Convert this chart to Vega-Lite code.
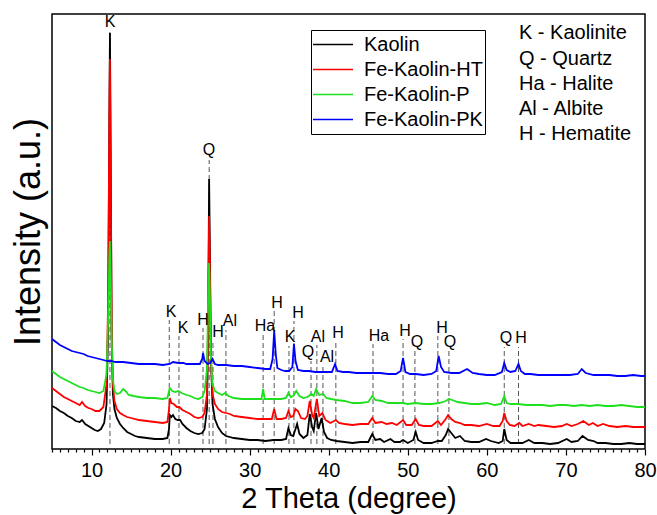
{
  "$schema": "https://vega.github.io/schema/vega-lite/v6.json",
  "autosize": {"type": "none"},
  "padding": {"left": 52, "top": 14, "right": 12, "bottom": 66},
  "width": 593,
  "height": 435,
  "background": "white",
  "config": {
    "font": "Liberation Sans",
    "view": {"stroke": "black", "strokeWidth": 1.5}
  },
  "datasets": {
    "traces": [
      {"s":"Kaolin","x":5,"y":43},{"s":"Kaolin","x":5.5,"y":41},{"s":"Kaolin","x":6,"y":38},{"s":"Kaolin","x":6.5,"y":36},{"s":"Kaolin","x":7,"y":33},{"s":"Kaolin","x":7.5,"y":31},{"s":"Kaolin","x":8,"y":28},{"s":"Kaolin","x":8.5,"y":27},{"s":"Kaolin","x":8.8,"y":29},{"s":"Kaolin","x":9.2,"y":25},{"s":"Kaolin","x":9.6,"y":23},{"s":"Kaolin","x":10,"y":21},{"s":"Kaolin","x":10.4,"y":19},{"s":"Kaolin","x":10.8,"y":18},{"s":"Kaolin","x":11.2,"y":20},{"s":"Kaolin","x":11.6,"y":26},{"s":"Kaolin","x":11.9,"y":45},{"s":"Kaolin","x":12.1,"y":120},{"s":"Kaolin","x":12.25,"y":330},{"s":"Kaolin","x":12.33,"y":416},{"s":"Kaolin","x":12.42,"y":300},{"s":"Kaolin","x":12.55,"y":110},{"s":"Kaolin","x":12.7,"y":55},{"s":"Kaolin","x":12.9,"y":40},{"s":"Kaolin","x":13.2,"y":31},{"s":"Kaolin","x":13.6,"y":25},{"s":"Kaolin","x":14,"y":21},{"s":"Kaolin","x":14.5,"y":17},{"s":"Kaolin","x":15,"y":15},{"s":"Kaolin","x":15.5,"y":13},{"s":"Kaolin","x":16,"y":12},{"s":"Kaolin","x":17,"y":11},{"s":"Kaolin","x":18,"y":10},{"s":"Kaolin","x":19,"y":10},{"s":"Kaolin","x":19.6,"y":11},{"s":"Kaolin","x":19.8,"y":20},{"s":"Kaolin","x":19.9,"y":34},{"s":"Kaolin","x":20.1,"y":32},{"s":"Kaolin","x":20.3,"y":34},{"s":"Kaolin","x":20.6,"y":30},{"s":"Kaolin","x":20.9,"y":29},{"s":"Kaolin","x":21.2,"y":29},{"s":"Kaolin","x":21.5,"y":25},{"s":"Kaolin","x":22,"y":21},{"s":"Kaolin","x":22.5,"y":18},{"s":"Kaolin","x":23,"y":16},{"s":"Kaolin","x":23.5,"y":15},{"s":"Kaolin","x":24,"y":16},{"s":"Kaolin","x":24.3,"y":20},{"s":"Kaolin","x":24.6,"y":40},{"s":"Kaolin","x":24.75,"y":120},{"s":"Kaolin","x":24.87,"y":270},{"s":"Kaolin","x":24.97,"y":200},{"s":"Kaolin","x":25.1,"y":90},{"s":"Kaolin","x":25.3,"y":45},{"s":"Kaolin","x":25.6,"y":30},{"s":"Kaolin","x":26,"y":22},{"s":"Kaolin","x":26.5,"y":16},{"s":"Kaolin","x":27,"y":13},{"s":"Kaolin","x":28,"y":11},{"s":"Kaolin","x":29,"y":10},{"s":"Kaolin","x":30,"y":9},{"s":"Kaolin","x":31,"y":9},{"s":"Kaolin","x":32,"y":8},{"s":"Kaolin","x":33,"y":9},{"s":"Kaolin","x":34,"y":9},{"s":"Kaolin","x":34.6,"y":10},{"s":"Kaolin","x":34.9,"y":21},{"s":"Kaolin","x":35.2,"y":14},{"s":"Kaolin","x":35.5,"y":13},{"s":"Kaolin","x":35.8,"y":20},{"s":"Kaolin","x":36,"y":25},{"s":"Kaolin","x":36.3,"y":15},{"s":"Kaolin","x":36.8,"y":11},{"s":"Kaolin","x":37.3,"y":14},{"s":"Kaolin","x":37.6,"y":35},{"s":"Kaolin","x":37.9,"y":22},{"s":"Kaolin","x":38.1,"y":18},{"s":"Kaolin","x":38.4,"y":36},{"s":"Kaolin","x":38.7,"y":20},{"s":"Kaolin","x":39.1,"y":31},{"s":"Kaolin","x":39.4,"y":17},{"s":"Kaolin","x":39.8,"y":11},{"s":"Kaolin","x":40.3,"y":9},{"s":"Kaolin","x":41,"y":8},{"s":"Kaolin","x":42,"y":7},{"s":"Kaolin","x":43,"y":6},{"s":"Kaolin","x":44,"y":7},{"s":"Kaolin","x":45,"y":7},{"s":"Kaolin","x":45.5,"y":15},{"s":"Kaolin","x":45.9,"y":9},{"s":"Kaolin","x":46.5,"y":10},{"s":"Kaolin","x":47,"y":7},{"s":"Kaolin","x":47.8,"y":10},{"s":"Kaolin","x":48.3,"y":7},{"s":"Kaolin","x":49,"y":7},{"s":"Kaolin","x":49.4,"y":9},{"s":"Kaolin","x":50,"y":6},{"s":"Kaolin","x":50.7,"y":9},{"s":"Kaolin","x":51,"y":17},{"s":"Kaolin","x":51.3,"y":9},{"s":"Kaolin","x":52,"y":6},{"s":"Kaolin","x":53,"y":6},{"s":"Kaolin","x":53.8,"y":8},{"s":"Kaolin","x":54.3,"y":8},{"s":"Kaolin","x":54.8,"y":14},{"s":"Kaolin","x":55.1,"y":20},{"s":"Kaolin","x":55.5,"y":16},{"s":"Kaolin","x":56,"y":11},{"s":"Kaolin","x":56.6,"y":13},{"s":"Kaolin","x":57.2,"y":8},{"s":"Kaolin","x":58,"y":7},{"s":"Kaolin","x":59,"y":7},{"s":"Kaolin","x":59.9,"y":10},{"s":"Kaolin","x":60.5,"y":8},{"s":"Kaolin","x":61.5,"y":6},{"s":"Kaolin","x":62,"y":8},{"s":"Kaolin","x":62.2,"y":20},{"s":"Kaolin","x":62.5,"y":9},{"s":"Kaolin","x":63,"y":6},{"s":"Kaolin","x":64,"y":6},{"s":"Kaolin","x":64.5,"y":6},{"s":"Kaolin","x":65.3,"y":9},{"s":"Kaolin","x":66,"y":6},{"s":"Kaolin","x":67,"y":6},{"s":"Kaolin","x":68,"y":5},{"s":"Kaolin","x":69,"y":6},{"s":"Kaolin","x":70.1,"y":10},{"s":"Kaolin","x":70.7,"y":7},{"s":"Kaolin","x":71.5,"y":8},{"s":"Kaolin","x":72.1,"y":13},{"s":"Kaolin","x":72.8,"y":9},{"s":"Kaolin","x":73.5,"y":8},{"s":"Kaolin","x":74,"y":6},{"s":"Kaolin","x":75,"y":6},{"s":"Kaolin","x":76,"y":5},{"s":"Kaolin","x":77,"y":5},{"s":"Kaolin","x":78,"y":6},{"s":"Kaolin","x":79,"y":5},{"s":"Kaolin","x":80,"y":5},

      {"s":"Fe-Kaolin-HT","x":5,"y":61},{"s":"Fe-Kaolin-HT","x":5.5,"y":58},{"s":"Fe-Kaolin-HT","x":6,"y":55},{"s":"Fe-Kaolin-HT","x":6.5,"y":52},{"s":"Fe-Kaolin-HT","x":7,"y":50},{"s":"Fe-Kaolin-HT","x":7.5,"y":48},{"s":"Fe-Kaolin-HT","x":8,"y":46},{"s":"Fe-Kaolin-HT","x":8.5,"y":44},{"s":"Fe-Kaolin-HT","x":8.8,"y":47},{"s":"Fe-Kaolin-HT","x":9.2,"y":43},{"s":"Fe-Kaolin-HT","x":9.6,"y":41},{"s":"Fe-Kaolin-HT","x":10,"y":40},{"s":"Fe-Kaolin-HT","x":10.5,"y":38},{"s":"Fe-Kaolin-HT","x":11,"y":38},{"s":"Fe-Kaolin-HT","x":11.5,"y":42},{"s":"Fe-Kaolin-HT","x":11.9,"y":65},{"s":"Fe-Kaolin-HT","x":12.1,"y":150},{"s":"Fe-Kaolin-HT","x":12.25,"y":330},{"s":"Fe-Kaolin-HT","x":12.32,"y":390},{"s":"Fe-Kaolin-HT","x":12.42,"y":280},{"s":"Fe-Kaolin-HT","x":12.55,"y":120},{"s":"Fe-Kaolin-HT","x":12.7,"y":65},{"s":"Fe-Kaolin-HT","x":12.9,"y":48},{"s":"Fe-Kaolin-HT","x":13.2,"y":40},{"s":"Fe-Kaolin-HT","x":13.6,"y":36},{"s":"Fe-Kaolin-HT","x":14,"y":34},{"s":"Fe-Kaolin-HT","x":14.5,"y":32},{"s":"Fe-Kaolin-HT","x":15,"y":31},{"s":"Fe-Kaolin-HT","x":16,"y":29},{"s":"Fe-Kaolin-HT","x":17,"y":28},{"s":"Fe-Kaolin-HT","x":18,"y":27},{"s":"Fe-Kaolin-HT","x":19,"y":26},{"s":"Fe-Kaolin-HT","x":19.6,"y":27},{"s":"Fe-Kaolin-HT","x":19.8,"y":40},{"s":"Fe-Kaolin-HT","x":19.9,"y":51},{"s":"Fe-Kaolin-HT","x":20.1,"y":46},{"s":"Fe-Kaolin-HT","x":20.4,"y":45},{"s":"Fe-Kaolin-HT","x":20.8,"y":42},{"s":"Fe-Kaolin-HT","x":21.1,"y":42},{"s":"Fe-Kaolin-HT","x":21.5,"y":39},{"s":"Fe-Kaolin-HT","x":22,"y":37},{"s":"Fe-Kaolin-HT","x":22.5,"y":35},{"s":"Fe-Kaolin-HT","x":23,"y":32},{"s":"Fe-Kaolin-HT","x":23.5,"y":31},{"s":"Fe-Kaolin-HT","x":24,"y":32},{"s":"Fe-Kaolin-HT","x":24.3,"y":36},{"s":"Fe-Kaolin-HT","x":24.6,"y":55},{"s":"Fe-Kaolin-HT","x":24.75,"y":130},{"s":"Fe-Kaolin-HT","x":24.87,"y":233},{"s":"Fe-Kaolin-HT","x":24.97,"y":180},{"s":"Fe-Kaolin-HT","x":25.1,"y":90},{"s":"Fe-Kaolin-HT","x":25.3,"y":55},{"s":"Fe-Kaolin-HT","x":25.6,"y":45},{"s":"Fe-Kaolin-HT","x":26,"y":40},{"s":"Fe-Kaolin-HT","x":26.5,"y":37},{"s":"Fe-Kaolin-HT","x":27,"y":36},{"s":"Fe-Kaolin-HT","x":27.5,"y":35},{"s":"Fe-Kaolin-HT","x":28,"y":33},{"s":"Fe-Kaolin-HT","x":29,"y":32},{"s":"Fe-Kaolin-HT","x":30,"y":31},{"s":"Fe-Kaolin-HT","x":31,"y":30},{"s":"Fe-Kaolin-HT","x":32,"y":30},{"s":"Fe-Kaolin-HT","x":32.8,"y":30},{"s":"Fe-Kaolin-HT","x":33.1,"y":40},{"s":"Fe-Kaolin-HT","x":33.4,"y":30},{"s":"Fe-Kaolin-HT","x":34,"y":30},{"s":"Fe-Kaolin-HT","x":34.6,"y":31},{"s":"Fe-Kaolin-HT","x":34.9,"y":38},{"s":"Fe-Kaolin-HT","x":35.2,"y":32},{"s":"Fe-Kaolin-HT","x":35.5,"y":33},{"s":"Fe-Kaolin-HT","x":35.8,"y":40},{"s":"Fe-Kaolin-HT","x":36.1,"y":38},{"s":"Fe-Kaolin-HT","x":36.5,"y":31},{"s":"Fe-Kaolin-HT","x":37,"y":30},{"s":"Fe-Kaolin-HT","x":37.3,"y":33},{"s":"Fe-Kaolin-HT","x":37.6,"y":48},{"s":"Fe-Kaolin-HT","x":37.9,"y":34},{"s":"Fe-Kaolin-HT","x":38.1,"y":31},{"s":"Fe-Kaolin-HT","x":38.5,"y":50},{"s":"Fe-Kaolin-HT","x":38.8,"y":33},{"s":"Fe-Kaolin-HT","x":39.2,"y":36},{"s":"Fe-Kaolin-HT","x":39.6,"y":29},{"s":"Fe-Kaolin-HT","x":40.2,"y":26},{"s":"Fe-Kaolin-HT","x":40.9,"y":29},{"s":"Fe-Kaolin-HT","x":41.3,"y":26},{"s":"Fe-Kaolin-HT","x":42,"y":25},{"s":"Fe-Kaolin-HT","x":43,"y":24},{"s":"Fe-Kaolin-HT","x":44,"y":25},{"s":"Fe-Kaolin-HT","x":45,"y":25},{"s":"Fe-Kaolin-HT","x":45.5,"y":31},{"s":"Fe-Kaolin-HT","x":45.9,"y":26},{"s":"Fe-Kaolin-HT","x":46.7,"y":27},{"s":"Fe-Kaolin-HT","x":47.3,"y":25},{"s":"Fe-Kaolin-HT","x":48,"y":26},{"s":"Fe-Kaolin-HT","x":48.6,"y":24},{"s":"Fe-Kaolin-HT","x":49.4,"y":29},{"s":"Fe-Kaolin-HT","x":49.8,"y":24},{"s":"Fe-Kaolin-HT","x":50.5,"y":24},{"s":"Fe-Kaolin-HT","x":51,"y":30},{"s":"Fe-Kaolin-HT","x":51.4,"y":24},{"s":"Fe-Kaolin-HT","x":52,"y":23},{"s":"Fe-Kaolin-HT","x":53,"y":23},{"s":"Fe-Kaolin-HT","x":53.8,"y":28},{"s":"Fe-Kaolin-HT","x":54.2,"y":24},{"s":"Fe-Kaolin-HT","x":54.8,"y":30},{"s":"Fe-Kaolin-HT","x":55.1,"y":34},{"s":"Fe-Kaolin-HT","x":55.5,"y":30},{"s":"Fe-Kaolin-HT","x":56,"y":27},{"s":"Fe-Kaolin-HT","x":56.6,"y":26},{"s":"Fe-Kaolin-HT","x":57.2,"y":24},{"s":"Fe-Kaolin-HT","x":58,"y":24},{"s":"Fe-Kaolin-HT","x":59,"y":23},{"s":"Fe-Kaolin-HT","x":60,"y":25},{"s":"Fe-Kaolin-HT","x":60.8,"y":23},{"s":"Fe-Kaolin-HT","x":61.6,"y":23},{"s":"Fe-Kaolin-HT","x":62,"y":28},{"s":"Fe-Kaolin-HT","x":62.2,"y":36},{"s":"Fe-Kaolin-HT","x":62.5,"y":28},{"s":"Fe-Kaolin-HT","x":62.9,"y":24},{"s":"Fe-Kaolin-HT","x":63.5,"y":23},{"s":"Fe-Kaolin-HT","x":64.1,"y":26},{"s":"Fe-Kaolin-HT","x":64.5,"y":23},{"s":"Fe-Kaolin-HT","x":65.3,"y":25},{"s":"Fe-Kaolin-HT","x":66,"y":23},{"s":"Fe-Kaolin-HT","x":66.5,"y":24},{"s":"Fe-Kaolin-HT","x":67.5,"y":23},{"s":"Fe-Kaolin-HT","x":68.5,"y":22},{"s":"Fe-Kaolin-HT","x":69.5,"y":23},{"s":"Fe-Kaolin-HT","x":70.1,"y":25},{"s":"Fe-Kaolin-HT","x":70.7,"y":23},{"s":"Fe-Kaolin-HT","x":71.5,"y":25},{"s":"Fe-Kaolin-HT","x":72.2,"y":28},{"s":"Fe-Kaolin-HT","x":72.9,"y":24},{"s":"Fe-Kaolin-HT","x":73.4,"y":26},{"s":"Fe-Kaolin-HT","x":74,"y":23},{"s":"Fe-Kaolin-HT","x":74.7,"y":25},{"s":"Fe-Kaolin-HT","x":75.5,"y":23},{"s":"Fe-Kaolin-HT","x":76.5,"y":22},{"s":"Fe-Kaolin-HT","x":77.5,"y":23},{"s":"Fe-Kaolin-HT","x":78.5,"y":22},{"s":"Fe-Kaolin-HT","x":79.5,"y":22},{"s":"Fe-Kaolin-HT","x":80,"y":22},

      {"s":"Fe-Kaolin-P","x":5,"y":78},{"s":"Fe-Kaolin-P","x":5.5,"y":75},{"s":"Fe-Kaolin-P","x":6,"y":72},{"s":"Fe-Kaolin-P","x":6.5,"y":70},{"s":"Fe-Kaolin-P","x":7,"y":68},{"s":"Fe-Kaolin-P","x":7.5,"y":66},{"s":"Fe-Kaolin-P","x":8,"y":64},{"s":"Fe-Kaolin-P","x":8.5,"y":62},{"s":"Fe-Kaolin-P","x":9,"y":61},{"s":"Fe-Kaolin-P","x":9.5,"y":59},{"s":"Fe-Kaolin-P","x":10,"y":58},{"s":"Fe-Kaolin-P","x":10.5,"y":57},{"s":"Fe-Kaolin-P","x":11,"y":56},{"s":"Fe-Kaolin-P","x":11.5,"y":58},{"s":"Fe-Kaolin-P","x":11.9,"y":75},{"s":"Fe-Kaolin-P","x":12.1,"y":130},{"s":"Fe-Kaolin-P","x":12.25,"y":190},{"s":"Fe-Kaolin-P","x":12.32,"y":208},{"s":"Fe-Kaolin-P","x":12.42,"y":170},{"s":"Fe-Kaolin-P","x":12.55,"y":110},{"s":"Fe-Kaolin-P","x":12.7,"y":70},{"s":"Fe-Kaolin-P","x":12.9,"y":58},{"s":"Fe-Kaolin-P","x":13.2,"y":55},{"s":"Fe-Kaolin-P","x":13.6,"y":56},{"s":"Fe-Kaolin-P","x":14,"y":60},{"s":"Fe-Kaolin-P","x":14.3,"y":58},{"s":"Fe-Kaolin-P","x":14.7,"y":54},{"s":"Fe-Kaolin-P","x":15.3,"y":53},{"s":"Fe-Kaolin-P","x":16,"y":52},{"s":"Fe-Kaolin-P","x":17,"y":51},{"s":"Fe-Kaolin-P","x":18,"y":51},{"s":"Fe-Kaolin-P","x":19,"y":50},{"s":"Fe-Kaolin-P","x":19.6,"y":51},{"s":"Fe-Kaolin-P","x":19.8,"y":58},{"s":"Fe-Kaolin-P","x":19.9,"y":61},{"s":"Fe-Kaolin-P","x":20.2,"y":58},{"s":"Fe-Kaolin-P","x":20.6,"y":57},{"s":"Fe-Kaolin-P","x":21,"y":58},{"s":"Fe-Kaolin-P","x":21.4,"y":56},{"s":"Fe-Kaolin-P","x":22,"y":54},{"s":"Fe-Kaolin-P","x":22.5,"y":53},{"s":"Fe-Kaolin-P","x":23,"y":51},{"s":"Fe-Kaolin-P","x":23.5,"y":50},{"s":"Fe-Kaolin-P","x":24,"y":52},{"s":"Fe-Kaolin-P","x":24.3,"y":58},{"s":"Fe-Kaolin-P","x":24.6,"y":80},{"s":"Fe-Kaolin-P","x":24.75,"y":150},{"s":"Fe-Kaolin-P","x":24.87,"y":186},{"s":"Fe-Kaolin-P","x":24.97,"y":150},{"s":"Fe-Kaolin-P","x":25.1,"y":90},{"s":"Fe-Kaolin-P","x":25.3,"y":65},{"s":"Fe-Kaolin-P","x":25.6,"y":58},{"s":"Fe-Kaolin-P","x":26,"y":56},{"s":"Fe-Kaolin-P","x":26.5,"y":54},{"s":"Fe-Kaolin-P","x":26.9,"y":56},{"s":"Fe-Kaolin-P","x":27.3,"y":53},{"s":"Fe-Kaolin-P","x":28,"y":51},{"s":"Fe-Kaolin-P","x":29,"y":50},{"s":"Fe-Kaolin-P","x":30,"y":50},{"s":"Fe-Kaolin-P","x":31,"y":50},{"s":"Fe-Kaolin-P","x":31.5,"y":50},{"s":"Fe-Kaolin-P","x":31.7,"y":60},{"s":"Fe-Kaolin-P","x":31.9,"y":50},{"s":"Fe-Kaolin-P","x":32.5,"y":50},{"s":"Fe-Kaolin-P","x":33,"y":50},{"s":"Fe-Kaolin-P","x":33.5,"y":50},{"s":"Fe-Kaolin-P","x":34,"y":50},{"s":"Fe-Kaolin-P","x":34.6,"y":51},{"s":"Fe-Kaolin-P","x":34.9,"y":56},{"s":"Fe-Kaolin-P","x":35.2,"y":52},{"s":"Fe-Kaolin-P","x":35.5,"y":53},{"s":"Fe-Kaolin-P","x":35.9,"y":58},{"s":"Fe-Kaolin-P","x":36.3,"y":53},{"s":"Fe-Kaolin-P","x":36.8,"y":51},{"s":"Fe-Kaolin-P","x":37.3,"y":52},{"s":"Fe-Kaolin-P","x":37.8,"y":55},{"s":"Fe-Kaolin-P","x":38.1,"y":53},{"s":"Fe-Kaolin-P","x":38.4,"y":60},{"s":"Fe-Kaolin-P","x":38.8,"y":54},{"s":"Fe-Kaolin-P","x":39.3,"y":55},{"s":"Fe-Kaolin-P","x":39.7,"y":51},{"s":"Fe-Kaolin-P","x":40.3,"y":50},{"s":"Fe-Kaolin-P","x":41,"y":49},{"s":"Fe-Kaolin-P","x":42,"y":48},{"s":"Fe-Kaolin-P","x":43,"y":46},{"s":"Fe-Kaolin-P","x":44,"y":46},{"s":"Fe-Kaolin-P","x":45,"y":47},{"s":"Fe-Kaolin-P","x":45.5,"y":53},{"s":"Fe-Kaolin-P","x":45.9,"y":49},{"s":"Fe-Kaolin-P","x":46.7,"y":48},{"s":"Fe-Kaolin-P","x":47.5,"y":46},{"s":"Fe-Kaolin-P","x":48.5,"y":46},{"s":"Fe-Kaolin-P","x":49.4,"y":46},{"s":"Fe-Kaolin-P","x":50,"y":45},{"s":"Fe-Kaolin-P","x":51,"y":46},{"s":"Fe-Kaolin-P","x":52,"y":45},{"s":"Fe-Kaolin-P","x":53,"y":45},{"s":"Fe-Kaolin-P","x":54,"y":46},{"s":"Fe-Kaolin-P","x":54.8,"y":48},{"s":"Fe-Kaolin-P","x":55.2,"y":50},{"s":"Fe-Kaolin-P","x":55.6,"y":49},{"s":"Fe-Kaolin-P","x":56.3,"y":47},{"s":"Fe-Kaolin-P","x":57.2,"y":46},{"s":"Fe-Kaolin-P","x":58,"y":45},{"s":"Fe-Kaolin-P","x":59,"y":45},{"s":"Fe-Kaolin-P","x":60,"y":46},{"s":"Fe-Kaolin-P","x":61,"y":44},{"s":"Fe-Kaolin-P","x":61.8,"y":45},{"s":"Fe-Kaolin-P","x":62.2,"y":53},{"s":"Fe-Kaolin-P","x":62.5,"y":46},{"s":"Fe-Kaolin-P","x":63,"y":45},{"s":"Fe-Kaolin-P","x":64,"y":45},{"s":"Fe-Kaolin-P","x":65,"y":44},{"s":"Fe-Kaolin-P","x":66,"y":44},{"s":"Fe-Kaolin-P","x":67,"y":44},{"s":"Fe-Kaolin-P","x":68,"y":43},{"s":"Fe-Kaolin-P","x":69,"y":44},{"s":"Fe-Kaolin-P","x":70,"y":44},{"s":"Fe-Kaolin-P","x":71,"y":43},{"s":"Fe-Kaolin-P","x":72,"y":44},{"s":"Fe-Kaolin-P","x":73,"y":43},{"s":"Fe-Kaolin-P","x":74,"y":44},{"s":"Fe-Kaolin-P","x":75,"y":43},{"s":"Fe-Kaolin-P","x":76,"y":43},{"s":"Fe-Kaolin-P","x":77,"y":44},{"s":"Fe-Kaolin-P","x":78,"y":43},{"s":"Fe-Kaolin-P","x":79,"y":42},{"s":"Fe-Kaolin-P","x":80,"y":42},

      {"s":"Fe-Kaolin-PK","x":5,"y":110},{"s":"Fe-Kaolin-PK","x":5.5,"y":107},{"s":"Fe-Kaolin-PK","x":6,"y":104},{"s":"Fe-Kaolin-PK","x":6.5,"y":102},{"s":"Fe-Kaolin-PK","x":7,"y":100},{"s":"Fe-Kaolin-PK","x":7.5,"y":98},{"s":"Fe-Kaolin-PK","x":8,"y":97},{"s":"Fe-Kaolin-PK","x":8.5,"y":96},{"s":"Fe-Kaolin-PK","x":9,"y":95},{"s":"Fe-Kaolin-PK","x":9.5,"y":93},{"s":"Fe-Kaolin-PK","x":10,"y":92},{"s":"Fe-Kaolin-PK","x":10.5,"y":91},{"s":"Fe-Kaolin-PK","x":11,"y":90},{"s":"Fe-Kaolin-PK","x":11.5,"y":89},{"s":"Fe-Kaolin-PK","x":12,"y":88},{"s":"Fe-Kaolin-PK","x":12.5,"y":88},{"s":"Fe-Kaolin-PK","x":13,"y":87},{"s":"Fe-Kaolin-PK","x":14,"y":87},{"s":"Fe-Kaolin-PK","x":15,"y":86},{"s":"Fe-Kaolin-PK","x":16,"y":85},{"s":"Fe-Kaolin-PK","x":17,"y":85},{"s":"Fe-Kaolin-PK","x":18,"y":85},{"s":"Fe-Kaolin-PK","x":19,"y":84},{"s":"Fe-Kaolin-PK","x":19.9,"y":85},{"s":"Fe-Kaolin-PK","x":20.3,"y":87},{"s":"Fe-Kaolin-PK","x":21,"y":86},{"s":"Fe-Kaolin-PK","x":21.6,"y":86},{"s":"Fe-Kaolin-PK","x":22,"y":85},{"s":"Fe-Kaolin-PK","x":23,"y":85},{"s":"Fe-Kaolin-PK","x":23.7,"y":85},{"s":"Fe-Kaolin-PK","x":24,"y":90},{"s":"Fe-Kaolin-PK","x":24.1,"y":96},{"s":"Fe-Kaolin-PK","x":24.3,"y":88},{"s":"Fe-Kaolin-PK","x":24.7,"y":85},{"s":"Fe-Kaolin-PK","x":25,"y":86},{"s":"Fe-Kaolin-PK","x":25.3,"y":90},{"s":"Fe-Kaolin-PK","x":25.6,"y":85},{"s":"Fe-Kaolin-PK","x":26,"y":84},{"s":"Fe-Kaolin-PK","x":27,"y":84},{"s":"Fe-Kaolin-PK","x":28,"y":83},{"s":"Fe-Kaolin-PK","x":29,"y":83},{"s":"Fe-Kaolin-PK","x":30,"y":82},{"s":"Fe-Kaolin-PK","x":31,"y":81},{"s":"Fe-Kaolin-PK","x":32,"y":80},{"s":"Fe-Kaolin-PK","x":32.6,"y":80},{"s":"Fe-Kaolin-PK","x":32.9,"y":90},{"s":"Fe-Kaolin-PK","x":33.1,"y":118},{"s":"Fe-Kaolin-PK","x":33.3,"y":95},{"s":"Fe-Kaolin-PK","x":33.5,"y":81},{"s":"Fe-Kaolin-PK","x":34,"y":79},{"s":"Fe-Kaolin-PK","x":34.5,"y":78},{"s":"Fe-Kaolin-PK","x":35,"y":78},{"s":"Fe-Kaolin-PK","x":35.4,"y":82},{"s":"Fe-Kaolin-PK","x":35.6,"y":105},{"s":"Fe-Kaolin-PK","x":35.8,"y":88},{"s":"Fe-Kaolin-PK","x":36.1,"y":79},{"s":"Fe-Kaolin-PK","x":36.8,"y":78},{"s":"Fe-Kaolin-PK","x":37.5,"y":78},{"s":"Fe-Kaolin-PK","x":38.3,"y":77},{"s":"Fe-Kaolin-PK","x":39,"y":77},{"s":"Fe-Kaolin-PK","x":39.7,"y":77},{"s":"Fe-Kaolin-PK","x":40.4,"y":77},{"s":"Fe-Kaolin-PK","x":40.8,"y":85},{"s":"Fe-Kaolin-PK","x":41.1,"y":78},{"s":"Fe-Kaolin-PK","x":41.8,"y":77},{"s":"Fe-Kaolin-PK","x":42.5,"y":77},{"s":"Fe-Kaolin-PK","x":43.5,"y":76},{"s":"Fe-Kaolin-PK","x":44.5,"y":76},{"s":"Fe-Kaolin-PK","x":45.5,"y":76},{"s":"Fe-Kaolin-PK","x":46.5,"y":76},{"s":"Fe-Kaolin-PK","x":47.5,"y":75},{"s":"Fe-Kaolin-PK","x":48.5,"y":75},{"s":"Fe-Kaolin-PK","x":49.1,"y":78},{"s":"Fe-Kaolin-PK","x":49.4,"y":91},{"s":"Fe-Kaolin-PK","x":49.7,"y":77},{"s":"Fe-Kaolin-PK","x":50.3,"y":75},{"s":"Fe-Kaolin-PK","x":51,"y":75},{"s":"Fe-Kaolin-PK","x":52,"y":74},{"s":"Fe-Kaolin-PK","x":53,"y":75},{"s":"Fe-Kaolin-PK","x":53.6,"y":78},{"s":"Fe-Kaolin-PK","x":53.9,"y":93},{"s":"Fe-Kaolin-PK","x":54.2,"y":82},{"s":"Fe-Kaolin-PK","x":54.6,"y":77},{"s":"Fe-Kaolin-PK","x":55.5,"y":76},{"s":"Fe-Kaolin-PK","x":56.5,"y":76},{"s":"Fe-Kaolin-PK","x":57.5,"y":80},{"s":"Fe-Kaolin-PK","x":58.2,"y":76},{"s":"Fe-Kaolin-PK","x":59,"y":75},{"s":"Fe-Kaolin-PK","x":60,"y":74},{"s":"Fe-Kaolin-PK","x":61,"y":74},{"s":"Fe-Kaolin-PK","x":61.9,"y":77},{"s":"Fe-Kaolin-PK","x":62.2,"y":86},{"s":"Fe-Kaolin-PK","x":62.5,"y":79},{"s":"Fe-Kaolin-PK","x":63,"y":77},{"s":"Fe-Kaolin-PK","x":63.6,"y":78},{"s":"Fe-Kaolin-PK","x":64,"y":85},{"s":"Fe-Kaolin-PK","x":64.3,"y":78},{"s":"Fe-Kaolin-PK","x":64.8,"y":75},{"s":"Fe-Kaolin-PK","x":65.5,"y":75},{"s":"Fe-Kaolin-PK","x":66.5,"y":74},{"s":"Fe-Kaolin-PK","x":67.5,"y":74},{"s":"Fe-Kaolin-PK","x":68.5,"y":74},{"s":"Fe-Kaolin-PK","x":69.5,"y":74},{"s":"Fe-Kaolin-PK","x":70.5,"y":74},{"s":"Fe-Kaolin-PK","x":71.5,"y":75},{"s":"Fe-Kaolin-PK","x":72,"y":80},{"s":"Fe-Kaolin-PK","x":72.5,"y":76},{"s":"Fe-Kaolin-PK","x":73.5,"y":74},{"s":"Fe-Kaolin-PK","x":74.5,"y":74},{"s":"Fe-Kaolin-PK","x":75.5,"y":74},{"s":"Fe-Kaolin-PK","x":76.5,"y":73},{"s":"Fe-Kaolin-PK","x":77.5,"y":73},{"s":"Fe-Kaolin-PK","x":78.5,"y":74},{"s":"Fe-Kaolin-PK","x":79.5,"y":73},{"s":"Fe-Kaolin-PK","x":80,"y":73}
    ],
    "peaklines": [
      {"x":12.33,"y":5,"y2":417},{"x":24.88,"y":5,"y2":289},{"x":19.83,"y":5,"y2":129},{"x":21.06,"y":5,"y2":113},{"x":24.1,"y":5,"y2":121},{"x":25.36,"y":5,"y2":109},{"x":27.0,"y":5,"y2":119},{"x":31.7,"y":5,"y2":114},{"x":33.1,"y":5,"y2":138},{"x":34.97,"y":5,"y2":103},{"x":35.6,"y":5,"y2":128},{"x":37.76,"y":5,"y2":88},{"x":38.5,"y":5,"y2":104},{"x":39.27,"y":5,"y2":83},{"x":40.9,"y":5,"y2":107},{"x":45.6,"y":5,"y2":105},{"x":49.4,"y":5,"y2":110},{"x":50.9,"y":5,"y2":98},{"x":53.8,"y":5,"y2":113},{"x":55.2,"y":5,"y2":98},{"x":62.2,"y":5,"y2":102},{"x":64.0,"y":5,"y2":102}
    ],
    "peaklabels": [
      {"x":12.34,"y":427,"t":"K"},{"x":24.86,"y":299,"t":"Q"},{"x":20.05,"y":137,"t":"K"},{"x":21.57,"y":121,"t":"K"},{"x":24.1,"y":129,"t":"H"},{"x":26.0,"y":117,"t":"H"},{"x":27.5,"y":128,"t":"Al"},{"x":31.94,"y":123,"t":"Ha"},{"x":33.46,"y":146,"t":"H"},{"x":35.1,"y":112,"t":"K"},{"x":36.11,"y":136,"t":"H"},{"x":37.38,"y":97,"t":"Q"},{"x":38.64,"y":112,"t":"Al"},{"x":39.78,"y":92,"t":"Al"},{"x":41.17,"y":116,"t":"H"},{"x":46.36,"y":113,"t":"Ha"},{"x":49.64,"y":118,"t":"H"},{"x":51.16,"y":107,"t":"Q"},{"x":54.32,"y":121,"t":"H"},{"x":55.33,"y":107,"t":"Q"},{"x":62.42,"y":111,"t":"Q"},{"x":64.31,"y":111,"t":"H"}
    ],
    "phases": [
      {"x":64.06,"y":416,"t":"K - Kaolinite"},{"x":64.06,"y":390,"t":"Q - Quartz"},{"x":64.06,"y":365,"t":"Ha - Halite"},{"x":64.06,"y":340,"t":"Al - Albite"},{"x":64.06,"y":315,"t":"H - Hematite"}
    ]
  },
  "encoding": {
    "x": {"field": "x", "type": "quantitative", "scale": {"domain": [5, 80], "nice": false, "zero": false},
      "axis": {
        "title": "2 Theta (degree)",
        "values": [5,6,7,8,9,10,11,12,13,14,15,16,17,18,19,20,21,22,23,24,25,26,27,28,29,30,31,32,33,34,35,36,37,38,39,40,41,42,43,44,45,46,47,48,49,50,51,52,53,54,55,56,57,58,59,60,61,62,63,64,65,66,67,68,69,70,71,72,73,74,75,76,77,78,79,80],
        "labelExpr": "datum.value % 10 === 0 ? datum.label : ''",
        "tickSize": {"condition": {"test": "datum.value % 10 === 0", "value": 6}, "value": 3},
        "tickColor": "black", "tickWidth": 1.2,
        "domain": false, "grid": false,
        "labelFontSize": 20, "labelColor": "black", "labelPadding": 5,
        "labelOverlap": false, "labelFlush": false,
        "titleFontSize": 29, "titleFontWeight": "normal", "titleColor": "black", "titlePadding": 4
      }
    },
    "y": {"field": "y", "type": "quantitative", "scale": {"domain": [0, 435], "nice": false},
      "axis": {"title": "Intensity (a.u.)", "labels": false, "ticks": false, "domain": false, "grid": false,
        "titleFontSize": 36, "titleFontWeight": "normal", "titleColor": "black", "titlePadding": 5}
    }
  },
  "layer": [
    {
      "data": {"name": "peaklines"},
      "mark": {"type": "rule", "strokeDash": [5, 3], "color": "#555555", "strokeWidth": 1},
      "encoding": {
        "y2": {"field": "y2"}
      }
    },
    {
      "data": {"name": "traces"},
      "mark": {"type": "line", "strokeWidth": 1.8},
      "encoding": {
        "color": {
          "field": "s", "type": "nominal",
          "scale": {"domain": ["Kaolin", "Fe-Kaolin-HT", "Fe-Kaolin-P", "Fe-Kaolin-PK"], "range": ["#000000", "#ff0000", "#1ee01e", "#0000ff"]},
          "legend": {
            "orient": "none", "legendX": 259, "legendY": 16, "title": null,
            "symbolType": "stroke", "symbolSize": 1764, "symbolStrokeWidth": 1.5, "symbolOffset": -3,
            "labelFontSize": 20, "labelColor": "black", "labelOffset": 10,
            "clipHeight": 25,
            "padding": 2, "strokeColor": "black", "fillColor": "white", "rowPadding": 0
          }
        }
      }
    },
    {
      "data": {"name": "peaklabels"},
      "mark": {"type": "text", "fontSize": 16, "color": "black", "align": "center", "baseline": "middle"},
      "encoding": {
        "text": {"field": "t"}
      }
    },
    {
      "data": {"name": "phases"},
      "mark": {"type": "text", "fontSize": 20, "color": "black", "align": "left", "baseline": "middle"},
      "encoding": {
        "text": {"field": "t"}
      }
    }
  ]
}
